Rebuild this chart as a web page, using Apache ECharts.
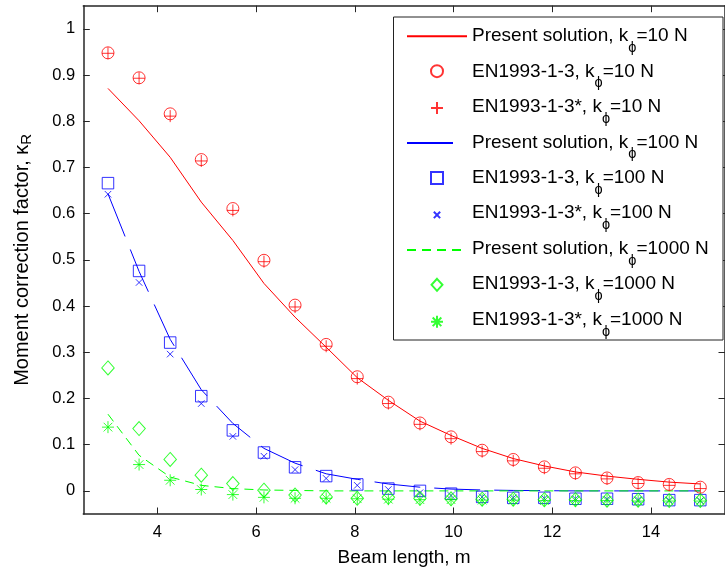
<!DOCTYPE html>
<html>
<head>
<meta charset="utf-8">
<script src="https://cdn.jsdelivr.net/npm/echarts@6/dist/echarts.min.js"></script>
<style>
  html, body { margin: 0; padding: 0; background: #fff; }
  #chart { width: 725px; height: 572px; }
</style>
</head>
<body>
<div id="chart"></div>
<script>
// Beam lengths (m) at which every curve is evaluated
const beamLength = [3, 3.63, 4.26, 4.89, 5.53, 6.16, 6.79, 7.42, 8.05, 8.68,
                    9.32, 9.95, 10.58, 11.21, 11.84, 12.47, 13.11, 13.74, 14.37, 15];

// k_phi = 10 N
const present10 = [0.871, 0.801, 0.722, 0.625, 0.542, 0.449, 0.376, 0.311, 0.245, 0.196,
                   0.151, 0.120, 0.092, 0.070, 0.054, 0.041, 0.032, 0.025, 0.019, 0.015];
const en10 = [0.948, 0.894, 0.816, 0.717, 0.611, 0.499, 0.402, 0.317, 0.247, 0.192,
              0.147, 0.117, 0.088, 0.068, 0.052, 0.039, 0.028, 0.018, 0.014, 0.008];
const enStar10 = [0.947, 0.893, 0.811, 0.714, 0.607, 0.496, 0.398, 0.313, 0.243, 0.189,
                  0.144, 0.113, 0.085, 0.065, 0.049, 0.037, 0.026, 0.016, 0.012, 0.005];

// k_phi = 100 N
const present100 = [0.643, 0.475, 0.328, 0.219, 0.146, 0.092, 0.060, 0.037, 0.025, 0.015,
                    0.008, 0.004, 0.002, 0.001, 0.0005, 0, 0, 0, 0, 0];
const en100 = [0.666, 0.476, 0.321, 0.205, 0.131, 0.083, 0.051, 0.032, 0.014, 0.005,
               0.000, -0.006, -0.013, -0.015, -0.015, -0.017, -0.017, -0.018, -0.020, -0.020];
const enStar100 = [0.642, 0.451, 0.296, 0.189, 0.118, 0.075, 0.046, 0.027, 0.012, 0.003,
                   -0.004, -0.010, -0.013, -0.015, -0.016, -0.017, -0.018, -0.019, -0.020, -0.021];

// k_phi = 1000 N
const present1000 = [0.166, 0.077, 0.030, 0.012, 0.005, 0.002, 0.001, 0, 0, 0,
                     0, 0, 0, 0, 0, 0, 0, 0, 0, 0];
const en1000 = [0.266, 0.135, 0.068, 0.034, 0.016, 0.0015, -0.009, -0.013, -0.016, -0.014,
                -0.016, -0.017, -0.018, -0.018, -0.019, -0.019, -0.020, -0.020, -0.021, -0.021];
const enStar1000 = [0.138, 0.057, 0.023, 0.003, -0.008, -0.014, -0.016, -0.016, -0.017, -0.018,
                    -0.019, -0.019, -0.020, -0.020, -0.021, -0.021, -0.021, -0.022, -0.022, -0.022];

// Tick values
const xTicks = [4, 6, 8, 10, 12, 14];
const yTicks = [0, 0.1, 0.2, 0.3, 0.4, 0.5, 0.6, 0.7, 0.8, 0.9, 1];

// Legend / series names
const names = [
  'Present solution, kϕ=10 N', 'EN1993-1-3, kϕ=10 N', 'EN1993-1-3*, kϕ=10 N',
  'Present solution, kϕ=100 N', 'EN1993-1-3, kϕ=100 N', 'EN1993-1-3*, kϕ=100 N',
  'Present solution, kϕ=1000 N', 'EN1993-1-3, kϕ=1000 N', 'EN1993-1-3*, kϕ=1000 N'
];

const RED = '#ff0000', BLUE = '#0000ff', GREEN = '#00ff00';
const FONT = 'Liberation Sans, Arial, Helvetica, sans-serif';
const AXIS_COLOR = '#262626';

// Marker shapes (stroked outlines)
const PLUS = 'path://M0,-1L0,1M-1,0L1,0';
const CROSS = 'path://M-1,-1L1,1M-1,1L1,-1';
const STAR = 'path://M0,-1L0,1M-1,0L1,0M-0.72,-0.72L0.72,0.72M-0.72,0.72L0.72,-0.72';
// Legend icons; the extra move-to points only pad the icon box
const ICON_RECT = 'path://M-1,-1L1,-1L1,1L-1,1Z';
const ICON_DIAMOND = 'path://M0,-1.1L1,0L0,1.1L-1,0Z';
const ICON_CROSS = 'path://M-1,-1L1,1M-1,1L1,-1M-1.9,-1.9M1.9,1.9';

const pairs = arr => beamLength.map((x, i) => [x, arr[i]]);

function lineSeries(name, data, color, dash) {
  return {
    name, type: 'line', data: pairs(data), showSymbol: false, symbol: 'none',
    lineStyle: { color, width: 1, type: dash || 'solid' },
    itemStyle: { color }, silent: true, z: 2
  };
}
function markerSeries(name, data, color, symbol, size) {
  return {
    name, type: 'scatter', data: pairs(data), symbol, symbolSize: size,
    itemStyle: { color: 'rgba(0,0,0,0)', borderColor: color, borderWidth: 1 },
    silent: true, z: 3
  };
}

const series = [
  lineSeries(names[0], present10, RED),
  markerSeries(names[1], en10, RED, 'circle', 12),
  markerSeries(names[2], enStar10, RED, PLUS, 12),
  lineSeries(names[3], present100, BLUE, [46, 14]),
  markerSeries(names[4], en100, BLUE, 'rect', 11.5),
  markerSeries(names[5], enStar100, BLUE, CROSS, 6.5),
  lineSeries(names[6], present1000, GREEN, [9, 6]),
  markerSeries(names[7], en1000, GREEN, 'diamond', [12.5, 14]),
  markerSeries(names[8], enStar1000, GREEN, STAR, 12)
];

// Icon column of the legend
const legendIcons = { 4: ICON_RECT, 5: ICON_CROSS, 7: ICON_DIAMOND };
const iconData = names.map((n, i) => {
  if (i % 3 === 0) return { name: n, itemStyle: { opacity: 0 } };
  if (legendIcons[i]) return { name: n, icon: legendIcons[i] };
  return { name: n };
});

const tickStyle = { lineStyle: { color: AXIS_COLOR, width: 1 } };
const axisLineStyle = { show: true, onZero: false, lineStyle: { color: AXIS_COLOR, width: 1.5 } };

const option = {
  animation: false,
  backgroundColor: '#fff',
  grid: { left: 83.3, top: 5.7, width: 647, height: 508.3, containLabel: false },
  xAxis: [
    {
      type: 'value', min: 2.5, max: 15.5, position: 'bottom',
      axisLine: axisLineStyle,
      axisTick: Object.assign({ inside: true, length: 6.5, customValues: xTicks }, tickStyle),
      axisLabel: { customValues: xTicks, fontSize: 16.5, fontFamily: FONT, color: '#000', margin: 10 },
      splitLine: { show: false },
      name: 'Beam length, m', nameLocation: 'middle', nameGap: 34,
      nameTextStyle: { fontSize: 19, fontFamily: FONT, color: '#000' }
    },
    {
      type: 'value', min: 2.5, max: 15.5, position: 'top',
      axisLine: axisLineStyle,
      axisTick: Object.assign({ inside: true, length: 6.5, customValues: xTicks }, tickStyle),
      axisLabel: { show: false }, splitLine: { show: false }
    }
  ],
  yAxis: [
    {
      type: 'value', min: -0.05, max: 1.05, position: 'left',
      axisLine: axisLineStyle,
      axisTick: Object.assign({ inside: true, length: 6.5, customValues: yTicks }, tickStyle),
      axisLabel: { customValues: yTicks, fontSize: 16.5, fontFamily: FONT, color: '#000', margin: 8 },
      splitLine: { show: false },
      name: '{t|Moment correction factor, κ}{r|R}', nameLocation: 'middle', nameGap: 51,
      nameRotate: 90,
      nameTextStyle: {
        fontFamily: FONT, color: '#000',
        rich: {
          t: { fontSize: 20, lineHeight: 20, verticalAlign: 'top', fontFamily: FONT, color: '#000' },
          r: { fontSize: 15, lineHeight: 15, verticalAlign: 'top', padding: [7, 0, 0, 0], fontFamily: FONT, color: '#000' }
        }
      }
    },
    {
      type: 'value', min: -0.05, max: 1.05, position: 'right',
      axisLine: axisLineStyle,
      axisTick: Object.assign({ inside: true, length: 6.5, customValues: yTicks }, tickStyle),
      axisLabel: { show: false }, splitLine: { show: false }
    }
  ],
  // Legend frame
  graphic: [{
    type: 'rect', z: 50,
    shape: { x: 393.5, y: 17, width: 329.5, height: 323 },
    style: { fill: '#fff', stroke: '#222', lineWidth: 1 }
  }],
  legend: [
    // symbols / line samples
    {
      orient: 'vertical', left: 406, top: 31.2, z: 60, padding: 0,
      itemWidth: 60, itemHeight: 12, itemGap: 22.95,
      selectedMode: false,
      data: iconData,
      formatter: () => ' ',
      textStyle: { fontSize: 10, lineHeight: 10, color: 'rgba(0,0,0,0)' }
    },
    // labels with the subscripted phi
    {
      orient: 'vertical', left: 406, top: 21.0, z: 61, padding: 0,
      itemWidth: 60, itemHeight: 12, itemGap: -8.35,
      selectedMode: false,
      itemStyle: { opacity: 0 }, lineStyle: { opacity: 0 },
      data: names,
      formatter: n => {
        const parts = n.split('ϕ');
        return '{m|' + parts[0] + '}{s|ϕ}{m|' + parts[1] + '}';
      },
      textStyle: {
        fontSize: 19, fontFamily: FONT, color: '#000',
        rich: {
          m: { fontSize: 19, lineHeight: 19, verticalAlign: 'top', padding: [5.5, 0, 0, 0], fontFamily: FONT, color: '#000' },
          s: { fontSize: 14.5, lineHeight: 15, verticalAlign: 'top', padding: [19.5, 0, 9.3, 0], fontFamily: FONT, color: '#000' }
        }
      }
    }
  ],
  series
};

const chart = echarts.init(document.getElementById('chart'), null, { renderer: 'canvas' });
chart.setOption(option);
</script>
</body>
</html>
